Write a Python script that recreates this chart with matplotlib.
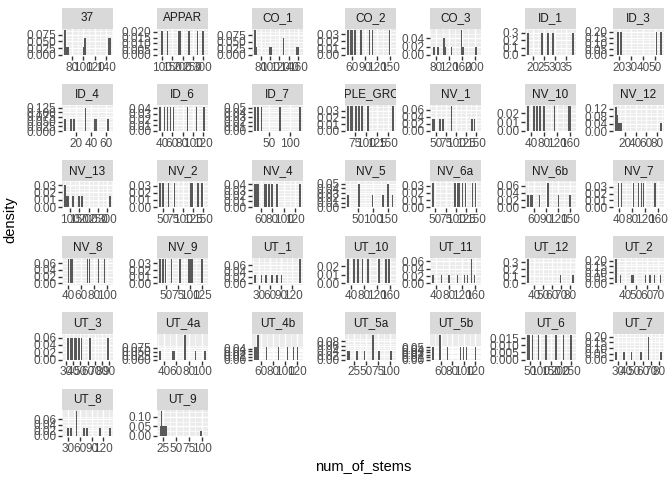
import numpy as np
import matplotlib.pyplot as plt

plt.rcParams['font.family'] = ['Liberation Sans', 'DejaVu Sans']

# one facet per site
sites = ["37", "APPAR", "CO_1", "CO_2", "CO_3", "ID_1", "ID_3",
         "ID_4", "ID_6", "ID_7", "MAPLE_GROVE", "NV_1", "NV_10", "NV_12",
         "NV_13", "NV_2", "NV_4", "NV_5", "NV_6a", "NV_6b", "NV_7",
         "NV_8", "NV_9", "UT_1", "UT_10", "UT_11", "UT_12", "UT_2",
         "UT_3", "UT_4a", "UT_4b", "UT_5a", "UT_5b", "UT_6", "UT_7",
         "UT_8", "UT_9"]

stems = [
    [68, 68, 68, 70, 73, 101, 103, 104, 143, 145, 146, 147],
    [100, 130, 185, 192, 230, 270, 300],
    [68, 68, 68, 71, 100, 102, 127, 129, 158, 160],
    [50, 57, 62, 67, 80, 100, 108, 150],
    [72, 88, 103, 106, 110, 125, 158, 158, 158, 163, 205],
    [18, 24, 27, 29, 38],
    [19, 22, 51, 55],
    [5, 12, 17, 32, 32, 44, 46, 63],
    [36, 44, 50, 56, 64, 90, 106, 122],
    [14, 21, 28, 75, 126],
    [60, 66, 72, 77, 84, 92, 105, 160],
    [43, 48, 62, 68, 88, 88, 140, 147],
    [30, 48, 58, 66, 80, 110, 158, 162],
    [3, 3, 3, 5, 7, 9, 12, 88],
    [73, 73, 80, 87, 118, 145, 165, 315],
    [42, 50, 64, 80, 118, 121, 137, 148],
    [50, 52, 56, 66, 70, 74, 79, 88, 128],
    [18, 52, 52, 100, 135, 150, 150, 163],
    [44, 98, 104, 110, 118, 124, 140, 149],
    [45, 53, 56, 75, 95, 95, 120, 150],
    [38, 46, 85, 100, 110, 118, 152],
    [40, 43, 46, 70, 73, 88, 97],
    [38, 44, 50, 63, 80, 99, 102, 105, 125],
    [20, 36, 50, 64, 78, 92, 140, 140, 140],
    [30, 48, 62, 76, 92, 128, 148, 158],
    [30, 55, 80, 108, 128, 136, 150, 150, 150, 160],
    [33, 33, 33, 70, 83],
    [32, 32, 32, 36, 46, 47, 58, 63, 66, 72],
    [33, 36, 39, 42, 45, 48, 52, 64, 88],
    [34, 53, 57, 73, 73, 73, 90, 105],
    [49, 51, 53, 55, 70, 88, 104, 113, 121],
    [12, 14, 30, 45, 65, 65, 65, 78, 102],
    [46, 58, 60, 72, 94, 99, 104, 120],
    [40, 50, 60, 90, 130, 175, 215, 250],
    [28, 38, 47, 58, 68, 68, 68, 82],
    [30, 38, 53, 53, 53, 72, 79, 112, 137],
    [19, 19, 22, 22, 22, 22, 22, 24, 24, 27, 27, 30, 30, 99],
]

x_breaks = [
    [80, 100, 120, 140], [100, 150, 200, 250, 300], [80, 100, 120, 140, 160],
    [60, 90, 120, 150], [80, 120, 160, 200], [20, 25, 30, 35], [20, 30, 40, 50],
    [20, 40, 60], [40, 60, 80, 100, 120], [50, 100], [75, 100, 125, 150],
    [50, 75, 100, 125, 150], [40, 80, 120, 160], [20, 40, 60, 80],
    [100, 150, 200, 250, 300], [50, 75, 100, 125, 150], [60, 80, 100, 120],
    [50, 100, 150], [50, 75, 100, 125, 150], [60, 90, 120, 150], [40, 80, 120, 160],
    [40, 60, 80, 100], [50, 75, 100, 125], [30, 60, 90, 120], [40, 80, 120, 160],
    [40, 80, 120, 160], [40, 50, 60, 70, 80], [40, 50, 60, 70],
    [30, 40, 50, 60, 70, 80, 90], [40, 60, 80, 100], [60, 80, 100, 120],
    [25, 50, 75, 100], [60, 80, 100, 120], [50, 100, 150, 200, 250],
    [30, 40, 50, 60, 70, 80], [30, 60, 90, 120], [25, 50, 75, 100],
]

y_step = [0.025, 0.005, 0.025, 0.01, 0.02, 0.1, 0.05,
          0.025, 0.01, 0.01, 0.01, 0.02, 0.01, 0.04,
          0.01, 0.01, 0.01, 0.01, 0.01, 0.02, 0.01,
          0.02, 0.01, 0.02, 0.01, 0.02, 0.1, 0.05,
          0.02, 0.025, 0.01, 0.02, 0.01, 0.005, 0.05,
          0.02, 0.05]
y_top = [0.075, 0.020, 0.075, 0.03, 0.04, 0.3, 0.20,
         0.125, 0.04, 0.05, 0.03, 0.06, 0.02, 0.12,
         0.03, 0.03, 0.04, 0.05, 0.03, 0.06, 0.03,
         0.06, 0.03, 0.06, 0.02, 0.06, 0.3, 0.20,
         0.06, 0.075, 0.04, 0.08, 0.05, 0.015, 0.20,
         0.06, 0.10]

W, H = 672, 480
fig = plt.figure(figsize=(W / 100, H / 100), dpi=100)
fig.patch.set_facecolor('white')

col_left = [62, 157, 252, 345, 430, 525, 613]
pw, strip_h, ph = 51, 21.5, 27

for i, site in enumerate(sites):
    r, c = divmod(i, 7)
    x0 = col_left[c]
    top = 7.5 + 76.2 * r

    # strip
    st = fig.add_axes([x0 / W, 1 - (top + strip_h) / H, pw / W, strip_h / H])
    st.set_facecolor('#D9D9D9')
    st.set_xticks([]); st.set_yticks([])
    for s in st.spines.values():
        s.set_visible(False)
    st.text(0.5, 0.5, site, ha='center', va='center', fontsize=8.45,
            color='#1A1A1A', transform=st.transAxes, clip_on=True)

    ax = fig.add_axes([x0 / W, 1 - (top + strip_h + ph) / H, pw / W, ph / H])
    ax.set_facecolor('#EBEBEB')
    vals = np.array(stems[i], dtype=float)
    lo, hi = vals.min(), vals.max()
    bw = (hi - lo) / 29
    edges = lo - bw / 2 + bw * np.arange(31)
    heights, _, _ = ax.hist(vals, bins=edges, density=True, color='#595959',
                            linewidth=0, zorder=3)

    # x limits like ggplot: bins range plus 5%
    span = edges[-1] - edges[0]
    ax.set_xlim(edges[0] - 0.05 * span, edges[-1] + 0.05 * span)
    m = max(heights.max(), y_top[i] / 1.05)
    ax.set_ylim(-0.05 * m, 1.05 * m)

    xb = x_breaks[i]
    ax.set_xticks(xb)
    ax.set_xticklabels([str(v) for v in xb])
    xs = xb[1] - xb[0]
    ax.set_xticks(np.arange(xb[0] - xs / 2, xb[-1] + xs, xs), minor=True)

    step = y_step[i]
    dec = len(repr(step).split('.')[1])
    yt = np.arange(0, y_top[i] + step / 2, step)
    ax.set_yticks(yt)
    ax.set_yticklabels([f"{v:.{dec}f}" for v in yt])
    ax.set_yticks(np.arange(step / 2, y_top[i] + step, step), minor=True)

    ax.grid(which='major', color='white', linewidth=1.0, zorder=1)
    ax.grid(which='minor', color='white', linewidth=0.5, zorder=1)
    ax.set_axisbelow(True)
    for s in ax.spines.values():
        s.set_visible(False)
    ax.tick_params(which='major', length=2.6, width=1.0, color='#333333',
                   labelsize=8.45, labelcolor='#4D4D4D', pad=1.5)
    ax.tick_params(which='minor', length=0)

fig.text(10 / W, 1 - 220 / H, 'density', rotation=90, ha='center',
         va='center', fontsize=10.5, color='black')
fig.text(363 / W, 1 - 466 / H, 'num_of_stems', ha='center', va='center',
         fontsize=10.5, color='black')

fig.savefig('out.png', dpi=100)
